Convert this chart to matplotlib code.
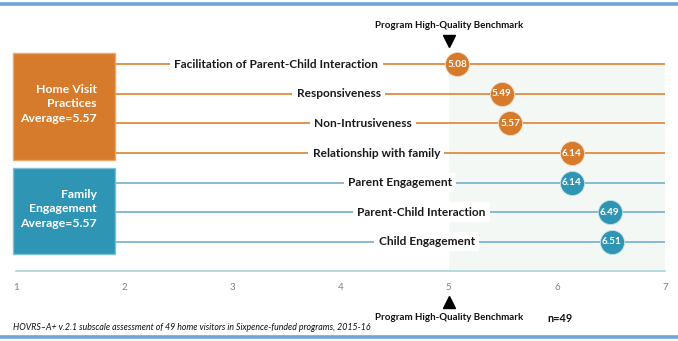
import matplotlib
matplotlib.use("Agg")
import matplotlib.pyplot as plt
import matplotlib.transforms as mtransforms
from matplotlib.patches import Rectangle
from matplotlib import font_manager

# ---- data ----
items = [
    "Facilitation of Parent-Child Interaction",
    "Responsiveness",
    "Non-Intrusiveness",
    "Relationship with family",
    "Parent Engagement",
    "Parent-Child Interaction",
    "Child Engagement",
]
scores = [5.08, 5.49, 5.57, 6.14, 6.14, 6.49, 6.51]
groups = ["hvp", "hvp", "hvp", "hvp", "fe", "fe", "fe"]
group_titles = {"hvp": "Home Visit\nPractices\nAverage=5.57",
                "fe": "Family\nEngagement\nAverage=5.57"}
benchmark = 5
x_ticks = [1, 2, 3, 4, 5, 6, 7]
n_label = "n=49"
footnote = ("HOVRS\u2013A+ v.2.1 subscale assessment of 49 home visitors in "
            "Sixpence-funded programs, 2015-16")

# ---- layout ----
label_right = [4.35, 4.37, 4.66, 4.92, 5.03, 5.34, 5.24]   # right edge of item labels (scale units)

W, H = 678, 341
ORANGE = "#D57B2B"
ORANGE_LINE = "#E09550"
BLUE = "#2F95B5"
BLUE_LINE = "#86BBD0"
colors = {"hvp": ORANGE, "fe": BLUE}
line_colors = {"hvp": ORANGE_LINE, "fe": BLUE_LINE}

avail = {f.name for f in font_manager.fontManager.ttflist}
FONT = "Lato" if "Lato" in avail else "DejaVu Sans"
NARROW = "Liberation Sans Narrow" if "Liberation Sans Narrow" in avail else FONT
plt.rcParams["font.family"] = [FONT, "DejaVu Sans"]

fig = plt.figure(figsize=(W / 100, H / 100), dpi=100)
fig.patch.set_facecolor("white")


def fx(px):
    return px / W


def fy(py):
    return 1 - py / H


row_top, row_step = 64.3, 29.57
axis_y = 271
ax_top = 50
ax = fig.add_axes([fx(16), fy(axis_y), fx(665) - fx(16), fy(ax_top) - fy(axis_y)])
ax.set_xlim(1, 7)
ax.set_ylim((axis_y - row_top) / row_step, (ax_top - row_top) / row_step)
for s in ["top", "left", "right"]:
    ax.spines[s].set_visible(False)
ax.spines["bottom"].set_color("#A9D3D8")
ax.spines["bottom"].set_linewidth(1.2)
ax.set_yticks([])
ax.set_xticks(x_ticks)
ax.set_xticklabels([str(t) for t in x_ticks])
ax.tick_params(axis="x", which="major", length=0, pad=9, labelsize=7, labelcolor="#808080")
ax.set_xticks([1, 3, 5, 7], minor=True)
ax.tick_params(axis="x", which="minor", length=3.5, width=1, color="#A9D3D8", direction="out")
ax.patch.set_alpha(0)

rows = list(range(len(items)))
ybot = ax.get_ylim()[0]

# benchmark zone
ax.add_patch(Rectangle((benchmark, 0), 7 - benchmark, ybot - 0,
                       facecolor="#F3F8F4", edgecolor="none", zorder=0))

# group boxes
box_left, box_right = 13, 115
box_spans = {"hvp": (53, 160), "fe": (168, 254)}
title_centers = {"hvp": 104, "fe": 209}
box_edges = {"hvp": "#EBA86B", "fe": "#7FC0D6"}
for g, (top, bot) in box_spans.items():
    fig.patches.append(Rectangle((fx(box_left), fy(bot)), fx(box_right) - fx(box_left),
                                 fy(top) - fy(bot), transform=fig.transFigure,
                                 facecolor=colors[g], edgecolor=box_edges[g], lw=1))
    fig.text(fx(97), fy(title_centers[g]), group_titles[g],
             ha="right", va="center", color="white", fontsize=8.8,
             fontweight="bold", linespacing=1.35)

x_start = ax.transData.inverted().transform(fig.transFigure.transform((fx(box_right), 0)))[0]

for r, item, val, g, xr in zip(rows, items, scores, groups, label_right):
    ax.plot([x_start, 7], [r, r], color=line_colors[g], lw=1.4, zorder=1,
            clip_on=False, solid_capstyle="butt")
    ax.text(xr, r, item, ha="right", va="center", fontsize=8.6, fontweight="bold",
            color="#1a1a1a", zorder=2,
            bbox=dict(boxstyle="square,pad=0.35", facecolor="white", edgecolor="none"))
    ax.scatter([val], [r], s=300, color=colors[g], edgecolor="#F2D9C4" if g == "hvp" else "#BFE0EA",
               linewidth=0.6, zorder=3, clip_on=False)
    ax.text(val, r, f"{val:.2f}", ha="center", va="center", color="white",
            fontsize=7.2, fontweight="bold", zorder=4)

# benchmark markers
bt = mtransforms.blended_transform_factory(ax.transData, fig.transFigure)
ax.text(benchmark, fy(25), "Program High-Quality Benchmark", transform=bt,
        ha="center", va="center", fontsize=7.0, fontweight="bold", color="#111111")
ax.plot([benchmark], [fy(41)], marker="v", markersize=9, color="black",
        transform=bt, clip_on=False, linestyle="none")
ax.plot([benchmark], [fy(302)], marker="^", markersize=9, color="black",
        transform=bt, clip_on=False, linestyle="none")
ax.text(benchmark, fy(318), "Program High-Quality Benchmark", transform=bt,
        ha="center", va="center", fontsize=7.0, fontweight="bold", color="#111111")
fig.text(fx(560), fy(318), n_label, ha="center", va="center", fontsize=7.8,
         fontweight="bold", color="#111111")

fig.text(fx(13), fy(327), footnote, ha="left", va="center", fontsize=6.3,
         style="italic", family=[NARROW, "DejaVu Sans"], color="#111111")

# frame rules
for y in (4, 337):
    fig.lines.append(plt.Line2D([0, 1], [fy(y), fy(y)], transform=fig.transFigure,
                                color="#6FA3DA", lw=2.6))

fig.savefig("out.png", dpi=100)
